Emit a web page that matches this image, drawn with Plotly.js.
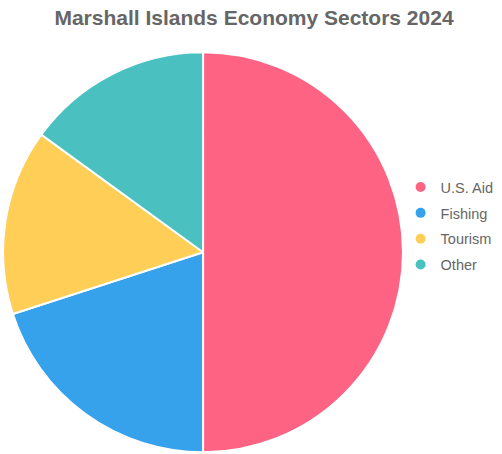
<!DOCTYPE html>
<html>
<head>
<meta charset="utf-8">
<script src="https://cdn.plot.ly/plotly-3.0.1.min.js"></script>
<style>html,body{margin:0;padding:0;background:#fff;}#chart{width:502px;height:454px;}</style>
</head>
<body>
<div id="chart"></div>
<script>
const categories = ["U.S. Aid", "Fishing", "Tourism", "Other"];
const shares = [50, 20, 15, 15];
const colors = ["#FF6384", "#36A2EB", "#FFCE56", "#4BC0C0"];

const pie = {
  type: "pie",
  labels: categories,
  values: shares,
  sort: false,
  direction: "clockwise",
  rotation: 0,
  textinfo: "none",
  hoverinfo: "label+value",
  marker: {colors: colors, line: {color: "#ffffff", width: 2}},
  showlegend: false,
  domain: {x: [0.006, 0.803], y: [0.004, 0.885]}
};

const legendTraces = categories.map((c, i) => ({
  type: "scatter",
  mode: "markers",
  x: [null], y: [null],
  name: c,
  legendgroup: "g" + i,
  marker: {color: colors[i], size: 10, symbol: "circle"},
  showlegend: true,
  hoverinfo: "skip"
}));

const layout = {
  width: 502, height: 454,
  margin: {l: 0, r: 0, t: 0, b: 0},
  paper_bgcolor: "#fff", plot_bgcolor: "#fff",
  title: {text: "<b>Marshall Islands Economy Sectors 2024</b>", x: 0.506, xanchor: "center", y: 0.962, yanchor: "middle",
          font: {family: "Liberation Sans, Arial, sans-serif", size: 21, color: "#666666"}},
  xaxis: {visible: false}, yaxis: {visible: false},
  showlegend: true,
  legend: {x: 0.798, xanchor: "left", y: 0.502, yanchor: "middle", tracegroupgap: 4, itemwidth: 30,
           font: {family: "Liberation Sans, Arial, sans-serif", size: 14.5, color: "#666666"}, bgcolor: "rgba(0,0,0,0)"}
};

Plotly.newPlot("chart", [pie].concat(legendTraces), layout, {displayModeBar: false, staticPlot: true});
</script>
</body>
</html>
